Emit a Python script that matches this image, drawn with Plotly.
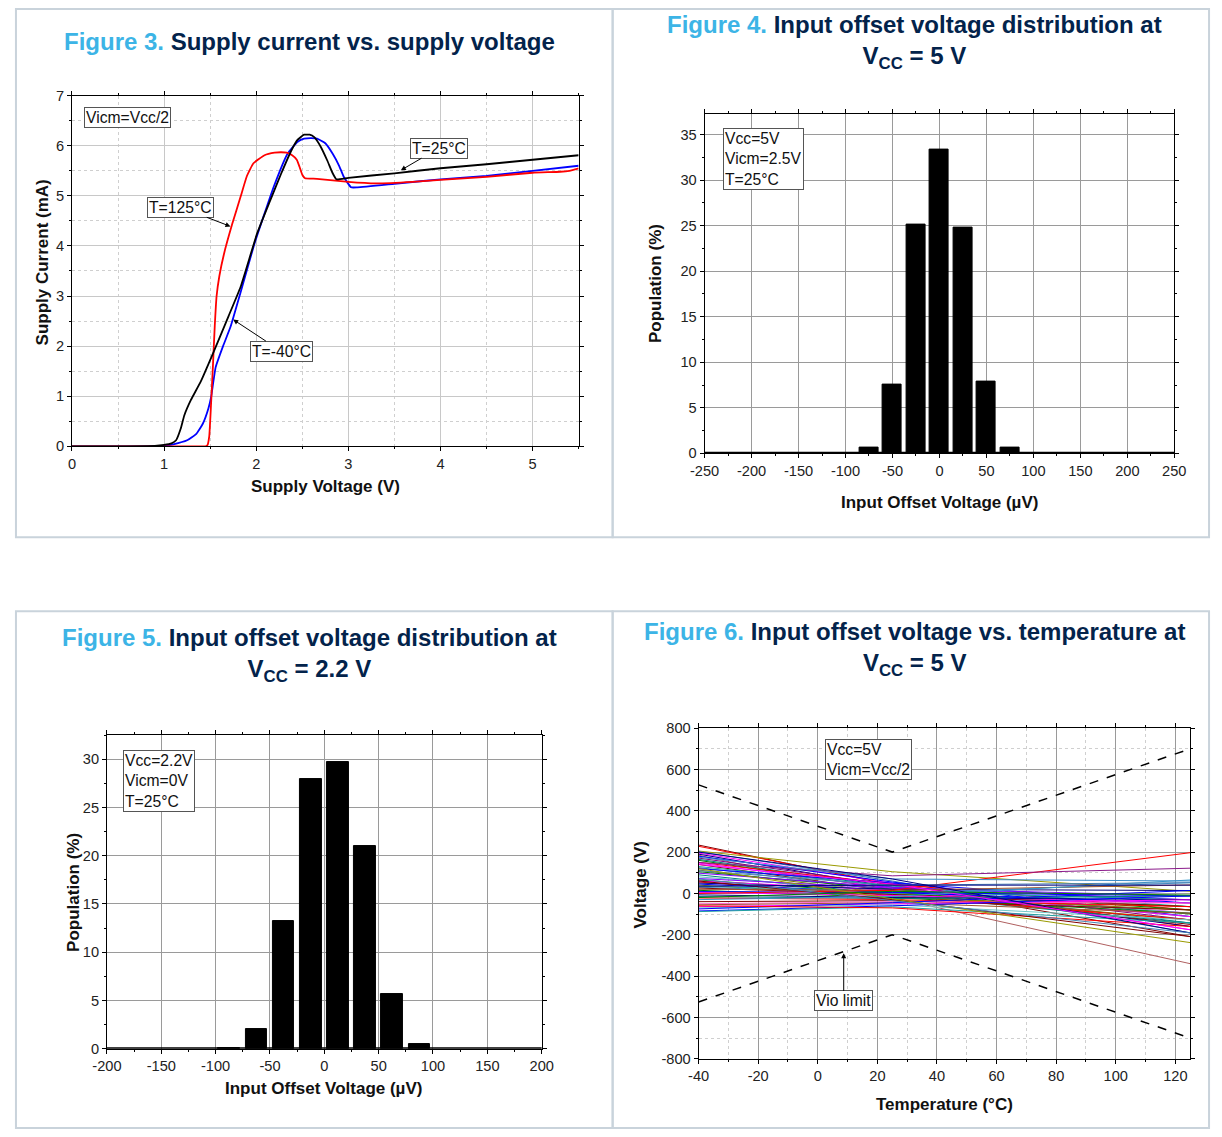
import plotly.graph_objects as go

W, H = 1222, 1137
# The photographed page is padded and slightly shrunk; map reference pixels to paper fractions accordingly.
SX, OX, SY, OY = 0.9785, 14.0, 0.9868, 7.3
def px(x): return min(max(((x - OX) / SX) / W, 0.0008), 0.9992)
def py(y): return min(max(1 - ((y - OY) / SY) / H, 0.0008), 0.9992)

# ---------------- Figure 3 data: supply current vs supply voltage ----------------
v_25 = [0, 0.5, 0.9, 1.0, 1.08, 1.13, 1.18, 1.22, 1.29, 1.4, 1.53, 1.7, 1.83, 2.01, 2.15, 2.27, 2.38, 2.45, 2.52, 2.58, 2.63, 2.7, 2.77, 2.83, 2.87, 3.0, 3.5, 4.0, 4.5, 5.0, 5.5]
i_25 = [0, 0, 0.01, 0.03, 0.06, 0.12, 0.35, 0.62, 0.92, 1.3, 1.85, 2.6, 3.18, 4.25, 4.9, 5.44, 5.9, 6.12, 6.22, 6.22, 6.17, 5.98, 5.71, 5.45, 5.33, 5.36, 5.45, 5.55, 5.63, 5.72, 5.81]
v_m40 = [0, 0.5, 1.0, 1.1, 1.25, 1.35, 1.42, 1.48, 1.51, 1.56, 1.64, 1.72, 1.85, 1.98, 2.1, 2.19, 2.34, 2.45, 2.52, 2.6, 2.66, 2.75, 2.83, 2.9, 2.95, 3.03, 3.1, 3.5, 4.0, 4.5, 5.0, 5.5]
i_m40 = [0, 0, 0.01, 0.04, 0.12, 0.25, 0.45, 0.75, 0.98, 1.58, 2.0, 2.38, 3.2, 4.04, 4.7, 5.18, 5.84, 6.08, 6.14, 6.15, 6.14, 6.05, 5.84, 5.6, 5.38, 5.17, 5.17, 5.24, 5.33, 5.4, 5.5, 5.6]
v_125 = [0, 1.0, 1.45, 1.47, 1.49, 1.51, 1.53, 1.55, 1.57, 1.6, 1.65, 1.74, 1.83, 1.9, 1.97, 2.09, 2.2, 2.27, 2.33, 2.39, 2.44, 2.47, 2.5, 2.53, 2.66, 3.0, 3.3, 3.7, 4.0, 4.5, 5.0, 5.3, 5.4, 5.5]
i_125 = [0, 0, 0, 0.02, 0.2, 0.85, 1.6, 2.4, 3.0, 3.4, 3.84, 4.44, 4.98, 5.4, 5.65, 5.81, 5.86, 5.87, 5.86, 5.81, 5.72, 5.58, 5.42, 5.35, 5.34, 5.28, 5.25, 5.28, 5.32, 5.38, 5.46, 5.48, 5.5, 5.55]

# ---------------- Figure 4 data: Vio distribution, Vcc=5V ----------------
vio4_bins = [-75, -50, -25, 0, 25, 50, 75]
vio4_pop = [0.6, 7.5, 25.1, 33.4, 24.8, 7.9, 0.6]

# ---------------- Figure 5 data: Vio distribution, Vcc=2.2V ----------------
vio5_bins = [-87.5, -62.5, -37.5, -12.5, 12.5, 37.5, 62.5, 87.5]
vio5_pop = [0.1, 2.05, 13.2, 27.9, 29.75, 21.0, 5.7, 0.46]

# ---------------- Figure 6 data: Vio vs temperature ----------------
temps = [-40, 25, 125]
limit_upper = [525, 200, 700]
limit_lower = [-525, -200, -700]
vio_curves = [
    [234, 40, -209], [228, 45, -160], [205, 105, 10], [202, 60, -191], [195, 50, -176],
    [190, 30, -160], [185, -20, -340], [180, 55, -112], [171, 40, -128], [165, 30, -143],
    [160, 20, -100], [150, 45, -80], [147, 25, -96], [140, 10, -150], [130, 35, -64],
    [125, 15, -112], [120, 50, -47], [113, 0, -128], [105, 20, -80], [98, 30, -31],
    [90, -5, -143], [80, 10, -96], [72, 25, -12], [65, 0, -64], [60, 15, -112],
    [55, -10, -128], [50, 20, 14], [45, 5, -47], [40, -15, -80], [35, 10, -31],
    [30, 0, 52], [26, -5, -64], [20, 15, 41], [15, -20, -96], [9, 5, -12],
    [5, -10, -47], [0, 15, 197], [150, 85, 122], [-7, -20, -30], [-15, -25, -12],
    [-22, -30, -64], [-30, -15, 65], [-40, -35, -80], [-50, -40, -47], [-55, -45, -96],
    [-64, -50, -31], [-70, -55, -128], [-75, -45, 14], [-85, -60, -12], [-88, -65, -143],
    [-60, -70, -160], [110, 40, 52], [175, 70, 60], [200, 70, -191], [140, 45, -176],
    [60, -30, -209], [120, -26, -238], [70, -35, -191], [-20, 10, -8], [35, 40, 40],
]
palette = ['#800000', '#FF0000', '#9A9A00', '#3C78B4', '#FF00FF', '#000080', '#B06060', '#0000FF',
           '#800080', '#008080', '#008000', '#FF0000', '#FF00FF', '#800000', '#20A0A0', '#4682B4',
           '#0000FF', '#808000', '#008000', '#8000FF', '#008080', '#60C0C0', '#8000FF', '#00A000',
           '#FF00FF', '#FF0000', '#000080', '#0000FF', '#808000', '#20A0A0', '#3C8CC8', '#800000',
           '#A0522D', '#008000', '#0000FF', '#FF00FF', '#FF0000', '#8B1A8B', '#000080', '#008080',
           '#FF0000', '#3399CC', '#800000', '#FF66CC', '#A0522D', '#FF00FF', '#70C8C8', '#0000FF',
           '#0000FF', '#20A0A0', '#FF0000', '#4682B4', '#3C8CC8', '#000080', '#FF00FF', '#800000',
           '#9A9A00', '#4682B4', '#008000', '#000080']

# tick labels (plain hyphen minus as in the reference)
ticks4_x = [-250, -200, -150, -100, -50, 0, 50, 100, 150, 200, 250]
ticks5_x = [-200, -150, -100, -50, 0, 50, 100, 150, 200]
ticks6_x = [-40, -20, 0, 20, 40, 60, 80, 100, 120]
ticks6_y = [-800, -600, -400, -200, 0, 200, 400, 600, 800]
def labels(vals): return [str(v) for v in vals]

fig = go.Figure()

for vx, iy, col in [(v_m40, i_m40, '#0000FF'), (v_125, i_125, '#FF0000'), (v_25, i_25, '#000000')]:
    fig.add_trace(go.Scatter(x=vx, y=iy, mode='lines', line=dict(color=col, width=1.8, shape='spline', smoothing=0.4),
                             xaxis='x', yaxis='y', hoverinfo='skip'))

fig.add_trace(go.Bar(x=vio4_bins, y=vio4_pop, width=20, marker=dict(color='#000000', line=dict(color='#000000', width=1)),
                     xaxis='x2', yaxis='y2'))
fig.add_trace(go.Bar(x=vio5_bins, y=vio5_pop, width=20, marker=dict(color='#000000', line=dict(color='#000000', width=1)),
                     xaxis='x3', yaxis='y3'))

for k, vals in enumerate(vio_curves):
    fig.add_trace(go.Scatter(x=temps, y=vals, mode='lines', line=dict(color=palette[k % len(palette)], width=1),
                             xaxis='x4', yaxis='y4', hoverinfo='skip'))
for lim in (limit_upper, limit_lower):
    fig.add_trace(go.Scatter(x=temps, y=lim, mode='lines', line=dict(color='#000000', width=1.5, dash='dash'),
                             xaxis='x4', yaxis='y4', hoverinfo='skip'))

tickfont = dict(family='Liberation Sans, Arial', size=14.6, color='#222222')
def axis(domain, rng, dtick, minor_dtick, anchor, grid='#B4B4B4', minor_grid=False, tickvals=None):
    d = dict(domain=domain, range=rng, dtick=dtick, showgrid=True, gridcolor=grid, gridwidth=1,
             showline=True, linecolor='#000000', linewidth=1, mirror='ticks', ticks='outside', ticklen=4,
             tickcolor='#000000', tickfont=tickfont, zeroline=False, anchor=anchor, fixedrange=True,
             minor=dict(dtick=minor_dtick, ticks='outside', ticklen=2, tickcolor='#000000',
                        showgrid=minor_grid, gridcolor='#CFCFCF', griddash='dot'))
    if tickvals is not None:
        d.update(tickmode='array', tickvals=tickvals, ticktext=labels(tickvals))
    return d

fig.update_layout(
    width=W, height=H, autosize=False, margin=dict(l=0, r=0, t=0, b=0),
    paper_bgcolor='white', plot_bgcolor='white', showlegend=False, bargap=0,
    xaxis=axis([px(71), px(578)], [0, 5.5], 1, 0.5, 'y', grid='#C8C8C8', minor_grid=True),
    yaxis=axis([py(446), py(95)], [0, 7], 1, 0.5, 'x', grid='#C8C8C8', minor_grid=True),
    xaxis2=axis([px(704), px(1174)], [-250, 250], 50, 25, 'y2', grid='#9A9A9A', tickvals=ticks4_x),
    yaxis2=axis([py(453), py(113)], [0, 37.3], 5, 2.5, 'x2', grid='#9A9A9A'),
    xaxis3=axis([px(106), px(541)], [-200, 200], 50, 25, 'y3', grid='#9A9A9A', tickvals=ticks5_x),
    yaxis3=axis([py(1049), py(735)], [0, 32.5], 5, 2.5, 'x3', grid='#9A9A9A'),
    xaxis4=axis([px(698), px(1190)], [-40, 125], 20, 10, 'y4', grid='#9A9A9A', minor_grid=True, tickvals=ticks6_x),
    yaxis4=axis([py(1059), py(728)], [-800, 800], 200, 100, 'x4', grid='#9A9A9A', minor_grid=True, tickvals=ticks6_y),
)

shapes = []
frame = dict(type='rect', xref='paper', yref='paper', line=dict(color='#C9D3DB', width=2), layer='below')
shapes.append(dict(frame, x0=px(7), x1=px(612), y0=py(537), y1=py(3)))
shapes.append(dict(frame, x0=px(612), x1=px(1218), y0=py(537), y1=py(3)))
shapes.append(dict(frame, x0=px(7), x1=px(612), y0=py(1140), y1=py(611)))
shapes.append(dict(frame, x0=px(612), x1=px(1218), y0=py(1140), y1=py(611)))
shapes.append(dict(type='line', xref='x2 domain', yref='y2', x0=0, x1=1, y0=0, y1=0, line=dict(color='#000000', width=3)))
shapes.append(dict(type='line', xref='x3 domain', yref='y3', x0=0, x1=1, y0=0, y1=0, line=dict(color='#000000', width=3)))
fig.update_layout(shapes=shapes)

ann = []
title_font = dict(family='Liberation Sans, Arial', size=24, color='#03234B', weight='bold')
def title(text, x, y):
    ann.append(dict(text=text, xref='paper', yref='paper', x=px(x), y=py(y), xanchor='center', yanchor='middle',
                    showarrow=False, font=title_font, align='center'))
blue = "<span style='color:#3CB4E6'>Figure %s</span>"
title(blue % '3.' + ' Supply current vs. supply voltage', 309, 41)
title(blue % '4.' + ' Input offset voltage distribution at<br>V<sub>CC</sub> = 5 V', 914, 41)
title(blue % '5.' + ' Input offset voltage distribution at<br>V<sub>CC</sub> = 2.2 V', 309, 655)
title(blue % '6.' + ' Input offset voltage vs. temperature at<br>V<sub>CC</sub> = 5 V', 914, 649)

axt_font = dict(family='Liberation Sans, Arial', size=17, color='#111111', weight='bold')
def axtitle(text, x, y, angle=0):
    ann.append(dict(text=text, xref='paper', yref='paper', x=px(x), y=py(y), xanchor='center', yanchor='middle',
                    showarrow=False, font=axt_font, textangle=angle))
axtitle('Supply Voltage (V)', 325, 486)
axtitle('Supply Current (mA)', 41, 262, -90)
axtitle('Input Offset Voltage (µV)', 939, 502)
axtitle('Population (%)', 655, 283, -90)
axtitle('Input Offset Voltage (µV)', 323, 1089)
axtitle('Population (%)', 73, 892, -90)
axtitle('Temperature (°C)', 944, 1105)
axtitle('Voltage (V)', 640, 885, -90)

box_font = dict(family='Liberation Sans, Arial', size=15.7, color='#111111')
def box(text, x, y, xr, yr):
    ann.append(dict(text=text, xref=xr, yref=yr, x=x, y=y, xanchor='left', yanchor='top', showarrow=False,
                    font=box_font, align='left', bordercolor='#555555', borderwidth=1, borderpad=1, bgcolor='white'))
box('Vicm=Vcc/2', 0.13, 6.77, 'x', 'y')
box('Vcc=5V<br>Vicm=2.5V<br>T=25°C', -230, 35.7, 'x2', 'y2')
box('Vcc=2.2V<br>Vicm=0V<br>T=25°C', -185, 30.9, 'x3', 'y3')
box('Vcc=5V<br>Vicm=Vcc/2', 2.3, 745, 'x4', 'y4')

def arrow_label(text, tip, tail, xr, yr):
    ann.append(dict(text=text, xref=xr, yref=yr, x=tip[0], y=tip[1], ax=tail[0], ay=tail[1], axref=xr, ayref=yr,
                    showarrow=True, arrowhead=2, arrowsize=1, arrowwidth=1, arrowcolor='#000000',
                    font=box_font, bordercolor='#555555', borderwidth=1, borderpad=1, bgcolor='white'))
arrow_label('T=25°C', (3.57, 5.51), (3.98, 5.95), 'x', 'y')
arrow_label('T=125°C', (1.72, 4.39), (1.18, 4.77), 'x', 'y')
arrow_label('T=-40°C', (1.75, 2.53), (2.27, 1.90), 'x', 'y')
arrow_label('Vio limit', (8.7, -290), (8.7, -520), 'x4', 'y4')

fig.update_layout(annotations=ann)
fig.write_html(
    'out.html',
    config={'displayModeBar': False},
    post_script="document.body.style.margin='0';document.body.style.overflow='hidden';",
)
